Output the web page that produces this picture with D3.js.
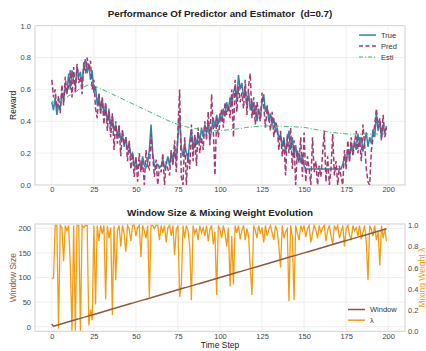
<!DOCTYPE html>
<meta charset="utf-8">
<script src="https://cdn.jsdelivr.net/npm/d3@7"></script>
<style>
body { margin: 0; background: #fff; }
text { font-family: "Liberation Sans", Arial, sans-serif; }
.tick text { fill: #444; font-size: 7.5px; }
.grid line { stroke: #ebebeb; stroke-width: 0.8; }
</style>
<body>
<script>

// ---- data ----
var trueVals = [
0.52,0.47,0.55,0.44,0.50,0.48,0.58,0.53,0.62,0.57,
0.70,0.60,0.72,0.65,0.62,0.74,0.68,0.71,0.63,0.75,
0.79,0.70,0.76,0.66,0.72,0.58,0.62,0.50,0.56,0.47,
0.54,0.44,0.50,0.40,0.46,0.36,0.43,0.34,0.38,0.31,
0.35,0.28,0.32,0.24,0.30,0.22,0.26,0.18,0.20,0.12,
0.15,0.11,0.13,0.11,0.18,0.12,0.11,0.14,0.22,0.38,
0.20,0.12,0.11,0.13,0.11,0.12,0.16,0.11,0.13,0.18,
0.12,0.20,0.14,0.22,0.15,0.30,0.44,0.24,0.18,0.26,
0.20,0.16,0.28,0.35,0.22,0.30,0.25,0.33,0.27,0.36,
0.30,0.38,0.32,0.40,0.28,0.35,0.42,0.36,0.44,0.38,
0.45,0.40,0.48,0.43,0.52,0.47,0.55,0.50,0.58,0.62,
0.54,0.69,0.60,0.64,0.55,0.60,0.50,0.58,0.47,0.53,
0.44,0.50,0.40,0.48,0.42,0.52,0.57,0.46,0.50,0.40,
0.45,0.38,0.42,0.33,0.36,0.28,0.32,0.24,0.30,0.20,
0.28,0.34,0.22,0.30,0.18,0.25,0.16,0.20,0.15,0.18,
0.12,0.10,0.10,0.10,0.10,0.10,0.10,0.10,0.10,0.10,
0.10,0.10,0.10,0.10,0.10,0.10,0.10,0.10,0.10,0.10,
0.10,0.10,0.10,0.13,0.18,0.14,0.22,0.17,0.25,0.20,
0.28,0.22,0.32,0.26,0.30,0.21,0.27,0.33,0.24,0.30,
0.26,0.35,0.30,0.45,0.34,0.40,0.30,0.38,0.33,0.37
];

var predVals = [
0.66,0.55,0.60,0.48,0.56,0.45,0.63,0.50,0.68,0.58,
0.62,0.72,0.55,0.74,0.58,0.76,0.64,0.68,0.57,0.77,
0.70,0.80,0.72,0.78,0.60,0.66,0.48,0.42,0.58,0.44,
0.55,0.38,0.52,0.34,0.48,0.30,0.45,0.22,0.40,0.26,
0.38,0.18,0.35,0.25,0.30,0.15,0.28,0.10,0.20,0.05,
0.18,0.02,0.20,0.08,0.15,0.00,0.22,0.12,0.10,0.32,
0.18,0.05,0.16,0.00,0.12,0.08,0.20,0.00,0.15,0.10,
0.06,0.22,0.12,0.28,0.08,0.35,0.60,0.05,0.00,0.30,
0.00,0.20,0.10,0.38,0.15,0.32,0.12,0.36,0.20,0.30,
0.22,0.40,0.28,0.46,0.25,0.57,0.35,0.06,0.42,0.30,
0.40,0.48,0.36,0.52,0.44,0.50,0.42,0.60,0.30,0.66,
0.46,0.62,0.52,0.58,0.48,0.66,0.44,0.62,0.70,0.42,
0.55,0.38,0.52,0.44,0.40,0.58,0.50,0.36,0.48,0.44,
0.34,0.46,0.30,0.40,0.36,0.22,0.34,0.18,0.28,0.06,
0.32,0.20,0.36,0.10,0.28,0.00,0.22,0.14,0.30,0.05,
0.33,0.02,0.18,0.10,0.00,0.30,0.08,0.15,0.00,0.12,
0.05,0.20,0.34,0.02,0.18,0.00,0.10,0.32,0.06,0.15,
0.00,0.12,0.05,0.00,0.22,0.10,0.28,0.14,0.30,0.18,
0.26,0.34,0.20,0.30,0.15,0.38,0.25,0.10,0.02,0.00,
0.22,0.30,0.38,0.48,0.36,0.42,0.28,0.44,0.30,0.36
];

var estiVals = [
0.53,0.52,0.53,0.52,0.51,0.52,0.53,0.54,0.545,0.55,
0.56,0.565,0.57,0.58,0.585,0.59,0.60,0.605,0.61,0.615,
0.62,0.625,0.63,0.628,0.625,0.622,0.618,0.614,0.61,0.606,
0.60,0.595,0.59,0.585,0.58,0.575,0.57,0.565,0.56,0.555,
0.55,0.545,0.54,0.535,0.53,0.525,0.52,0.515,0.51,0.505,
0.50,0.495,0.49,0.485,0.48,0.475,0.47,0.465,0.46,0.455,
0.45,0.445,0.44,0.435,0.43,0.425,0.42,0.415,0.41,0.405,
0.40,0.396,0.392,0.388,0.384,0.38,0.377,0.374,0.371,0.368,
0.365,0.363,0.361,0.359,0.357,0.355,0.353,0.351,0.35,0.349,
0.348,0.347,0.346,0.345,0.344,0.343,0.342,0.341,0.341,0.341,
0.342,0.343,0.344,0.345,0.346,0.347,0.348,0.349,0.35,0.351,
0.352,0.353,0.354,0.356,0.358,0.36,0.362,0.363,0.364,0.365,
0.366,0.367,0.368,0.369,0.37,0.37,0.37,0.371,0.371,0.371,
0.371,0.371,0.371,0.37,0.37,0.37,0.369,0.369,0.368,0.368,
0.367,0.367,0.366,0.366,0.365,0.365,0.364,0.364,0.363,0.362,
0.361,0.36,0.358,0.356,0.354,0.352,0.35,0.348,0.346,0.344,
0.342,0.34,0.338,0.336,0.334,0.332,0.33,0.329,0.328,0.327,
0.326,0.325,0.324,0.323,0.322,0.321,0.32,0.32,0.32,0.32,
0.32,0.32,0.32,0.32,0.32,0.32,0.32,0.32,0.32,0.32,
0.32,0.32,0.32,0.32,0.32,0.32,0.32,0.32,0.32,0.32
];

var windowVals = [
5,1,2,3,4,5,6,7,8,9,
10,11,12,13,14,15,16,17,18,19,
20,21,22,23,24,25,26,27,28,29,
30,31,32,33,34,35,36,37,38,39,
40,41,42,43,44,45,46,47,48,49,
50,51,52,53,54,55,56,57,58,59,
60,61,62,63,64,65,66,67,68,69,
70,71,72,73,74,75,76,77,78,79,
80,81,82,83,84,85,86,87,88,89,
90,91,92,93,94,95,96,97,98,99,
100,101,102,103,104,105,106,107,108,109,
110,111,112,113,114,115,116,117,118,119,
120,121,122,123,124,125,126,127,128,129,
130,131,132,133,134,135,136,137,138,139,
140,141,142,143,144,145,146,147,148,149,
150,151,152,153,154,155,156,157,158,159,
160,161,162,163,164,165,166,167,168,169,
170,171,172,173,174,175,176,177,178,179,
180,181,182,183,184,185,186,187,188,189,
190,191,192,193,194,195,196,197,198,199
];

var lambdaVals = [
0.50,0.50,1.00,1.00,0.02,1.00,0.98,0.66,1.00,0.95,
1.00,0.62,0.00,1.00,0.00,1.00,1.00,0.00,1.00,0.98,
1.00,1.00,0.05,0.20,0.10,1.00,0.25,1.00,0.85,1.00,
0.92,1.00,0.30,1.00,0.88,0.98,0.15,1.00,0.48,0.95,
1.00,0.80,1.00,0.92,0.75,1.00,0.97,0.85,1.00,1.00,
0.90,0.98,1.00,0.70,1.00,0.95,0.88,1.00,0.32,1.00,
1.00,0.97,1.00,1.00,0.86,1.00,0.93,1.00,0.84,0.98,
1.00,0.90,1.00,0.72,0.96,1.00,0.32,0.44,1.00,0.88,
1.00,0.95,0.80,0.29,1.00,0.92,0.97,0.86,1.00,0.93,
0.98,0.90,1.00,0.85,0.96,1.00,0.82,0.94,0.34,1.00,
0.96,0.88,1.00,0.92,0.80,0.98,0.42,0.90,0.44,1.00,
0.93,1.00,0.87,0.95,1.00,0.86,0.97,0.90,0.60,0.34,
1.00,0.95,0.88,1.00,0.92,0.98,0.84,1.00,0.90,0.96,
1.00,0.93,0.86,1.00,0.95,0.80,0.60,1.00,0.88,0.94,
0.97,0.28,1.00,0.90,0.29,1.00,0.93,0.86,1.00,0.95,
1.00,0.89,0.97,1.00,0.84,0.92,1.00,0.96,0.88,1.00,
0.93,0.98,1.00,0.85,0.95,1.00,0.90,0.82,1.00,0.96,
1.00,0.88,0.94,1.00,0.80,0.97,1.00,0.91,0.86,1.00,
0.95,0.98,0.90,1.00,0.87,0.93,1.00,0.84,0.48,1.00,
0.96,0.90,1.00,0.86,0.94,0.62,1.00,0.88,0.97,0.85
];

var steps = d3.range(trueVals.length);
var xTicks = [0, 25, 50, 75, 100, 125, 150, 175, 200];

// ---- layout ----
var width = 426, height = 351;
var left = 35, right = 405;

var svg = d3.select("body").append("svg")
    .attr("width", width)
    .attr("height", height);

var x = d3.scaleLinear().domain([-10, 210]).range([left, right]);

// ================= top panel =================
var top1 = 25.7, bot1 = 185;
var y1 = d3.scaleLinear().domain([0, 1]).range([bot1, top1]);

var p1 = svg.append("g");

p1.append("g").attr("class", "grid")
  .selectAll("line").data(xTicks).enter().append("line")
  .attr("x1", d => x(d)).attr("x2", d => x(d))
  .attr("y1", top1).attr("y2", bot1);
p1.append("g").attr("class", "grid")
  .selectAll("line").data([0.2, 0.4, 0.6, 0.8]).enter().append("line")
  .attr("x1", left).attr("x2", right)
  .attr("y1", d => y1(d)).attr("y2", d => y1(d));

p1.append("rect")
  .attr("x", left).attr("y", top1)
  .attr("width", right - left).attr("height", bot1 - top1)
  .attr("fill", "none").attr("stroke", "#d0d0d0").attr("stroke-width", 1);

p1.append("g")
  .attr("transform", "translate(" + left + ",0)")
  .call(d3.axisLeft(y1).tickValues([0, 0.2, 0.4, 0.6, 0.8, 1.0]).tickFormat(d3.format(".1f")).tickSize(0).tickPadding(4))
  .call(g => g.select(".domain").remove());

p1.append("g")
  .attr("transform", "translate(0," + bot1 + ")")
  .call(d3.axisBottom(x).tickValues(xTicks).tickSize(0).tickPadding(2))
  .call(g => g.select(".domain").remove());

var clip1 = svg.append("clipPath").attr("id", "clip1")
  .append("rect").attr("x", left).attr("y", top1)
  .attr("width", right - left).attr("height", bot1 - top1);

var line1 = function (vals) {
  return d3.line().x((d, i) => x(steps[i])).y(d => y1(d))(vals);
};

var lines1 = p1.append("g").attr("clip-path", "url(#clip1)");
lines1.append("path").attr("d", line1(trueVals))
  .attr("fill", "none").attr("stroke", "#2E86AB").attr("stroke-width", 1.5);
lines1.append("path").attr("d", line1(predVals))
  .attr("fill", "none").attr("stroke", "#A23B72").attr("stroke-width", 1.5)
  .attr("stroke-dasharray", "5,2.5");
lines1.append("path").attr("d", line1(estiVals))
  .attr("fill", "none").attr("stroke", "#3BB273").attr("stroke-width", 1)
  .attr("stroke-dasharray", "5,2,1,2");

svg.append("text")
  .attr("x", 220).attr("y", 17)
  .attr("text-anchor", "middle")
  .style("font-weight", "bold").style("font-size", "9.8px")
  .style("white-space", "pre")
  .attr("fill", "#222")
  .text("Performance Of Predictor and Estimator  (d=0.7)");

svg.append("text")
  .attr("transform", "translate(16," + ((top1 + bot1) / 2) + ") rotate(-90)")
  .attr("text-anchor", "middle")
  .style("font-size", "8.5px").attr("fill", "#222")
  .text("Reward");

var leg1 = [
  { name: "True", color: "#2E86AB", dash: null, w: 1.5 },
  { name: "Pred", color: "#A23B72", dash: "4,2.5", w: 1.5 },
  { name: "Esti", color: "#3BB273", dash: "4,2,1,2", w: 1 }
];
var lg1 = svg.append("g").attr("transform", "translate(359,35)");
leg1.forEach(function (d, i) {
  lg1.append("line").attr("x1", 0).attr("x2", 17)
    .attr("y1", i * 11).attr("y2", i * 11)
    .attr("stroke", d.color).attr("stroke-width", d.w)
    .attr("stroke-dasharray", d.dash);
  lg1.append("text").attr("x", 22).attr("y", i * 11 + 2.7)
    .style("font-size", "7.5px").attr("fill", "#333").text(d.name);
});

// ================= bottom panel =================
var top2 = 224, bot2 = 331.3;
var y2 = d3.scaleLinear().domain([-9.3, 208.7]).range([bot2, top2]);
var y3 = d3.scaleLinear().domain([-0.005, 1.014]).range([bot2, top2]);

var p2 = svg.append("g");

p2.append("g").attr("class", "grid")
  .selectAll("line").data(xTicks).enter().append("line")
  .attr("x1", d => x(d)).attr("x2", d => x(d))
  .attr("y1", top2).attr("y2", bot2);
p2.append("g").attr("class", "grid")
  .selectAll("line").data([0, 50, 100, 150, 200]).enter().append("line")
  .attr("x1", left).attr("x2", right)
  .attr("y1", d => y2(d)).attr("y2", d => y2(d));

p2.append("rect")
  .attr("x", left).attr("y", top2)
  .attr("width", right - left).attr("height", bot2 - top2)
  .attr("fill", "none").attr("stroke", "#d0d0d0").attr("stroke-width", 1);

p2.append("g")
  .attr("transform", "translate(" + left + ",0)")
  .call(d3.axisLeft(y2).tickValues([0, 50, 100, 150, 200]).tickSize(0).tickPadding(4))
  .call(g => g.select(".domain").remove());

p2.append("g")
  .attr("transform", "translate(" + right + ",0)")
  .call(d3.axisRight(y3).tickValues([0, 0.2, 0.4, 0.6, 0.8, 1.0]).tickFormat(d3.format(".1f")).tickSize(0).tickPadding(3))
  .call(g => g.select(".domain").remove());

p2.append("g")
  .attr("transform", "translate(0," + bot2 + ")")
  .call(d3.axisBottom(x).tickValues(xTicks).tickSize(0).tickPadding(2))
  .call(g => g.select(".domain").remove());

var clip2 = svg.append("clipPath").attr("id", "clip2")
  .append("rect").attr("x", left).attr("y", top2)
  .attr("width", right - left).attr("height", bot2 - top2);

var lines2 = p2.append("g").attr("clip-path", "url(#clip2)");
lines2.append("path")
  .attr("d", d3.line().x((d, i) => x(steps[i])).y(d => y3(d))(lambdaVals))
  .attr("fill", "none").attr("stroke", "#F39C12").attr("stroke-width", 1.3);
lines2.append("path")
  .attr("d", d3.line().x((d, i) => x(steps[i])).y(d => y2(d))(windowVals))
  .attr("fill", "none").attr("stroke", "#8B5A3C").attr("stroke-width", 1.5);

svg.append("text")
  .attr("x", 220).attr("y", 216)
  .attr("text-anchor", "middle")
  .style("font-weight", "bold").style("font-size", "9.8px")
  .attr("fill", "#222")
  .text("Window Size & Mixing Weight Evolution");

svg.append("text")
  .attr("transform", "translate(16," + ((top2 + bot2) / 2) + ") rotate(-90)")
  .attr("text-anchor", "middle")
  .style("font-size", "8.5px").attr("fill", "#8B5A3C")
  .text("Window Size");

svg.append("text")
  .attr("transform", "translate(424.5," + ((top2 + bot2) / 2) + ") rotate(-90)")
  .attr("text-anchor", "middle")
  .style("font-size", "8.5px").attr("fill", "#F39C12")
  .text("Mixing Weight λ");

svg.append("text")
  .attr("x", 220).attr("y", 348)
  .attr("text-anchor", "middle")
  .style("font-size", "8.5px").attr("fill", "#222")
  .text("Time Step");

var leg2 = [
  { name: "Window", color: "#8B5A3C" },
  { name: "λ", color: "#F39C12" }
];
var lg2 = svg.append("g").attr("transform", "translate(348,309.5)");
leg2.forEach(function (d, i) {
  lg2.append("line").attr("x1", 0).attr("x2", 17)
    .attr("y1", i * 10.7).attr("y2", i * 10.7)
    .attr("stroke", d.color).attr("stroke-width", 1.5);
  lg2.append("text").attr("x", 22).attr("y", i * 10.7 + 2.7)
    .style("font-size", "7.5px").attr("fill", "#333").text(d.name);
});

</script>
</body>
</html>
